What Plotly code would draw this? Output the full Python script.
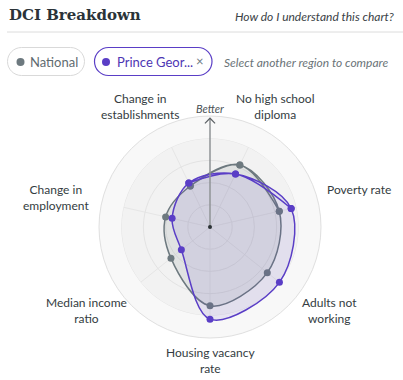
import plotly.graph_objects as go

# ---- data ----
categories = ["No high school<br>diploma", "Poverty rate", "Adults not<br>working",
              "Housing vacancy<br>rate", "Median income<br>ratio", "Change in<br>employment",
              "Change in<br>establishments"]
national = [62, 64, 66, 71, 45, 41, 41]
prince_georges = [53, 75, 80, 83, 33, 35, 44]
radial_ticks = [20, 40, 60, 80, 100]

# ---- style ----
W, H = 403, 380
CX, CY, R = 210, 227, 111
GRAY = "#6d797f"
PURPLE = "#5a3ec6"
TEXT = "#343c41"
FONT = "Lato"
ARROW_LEN = 98

n = len(categories)
first_theta = 25.71  # clockwise from top
thetas = [first_theta + i * 360 / n for i in range(n)]


def closed(vals):
    # wrap so the spline closes smoothly: last, all..., first, second
    return [vals[-1]] + list(vals) + list(vals[:2])


fig = go.Figure()

# outer lighter band
fig.add_trace(go.Barpolar(r=[20, 20], base=[80, 80], theta=[90, 270], width=[180, 180],
                          marker=dict(color="#f8f8f8", line=dict(width=0)),
                          hoverinfo="skip", showlegend=False))

for vals, col, fillc in [(national, GRAY, "rgba(109,121,127,0.13)"),
                         (prince_georges, PURPLE, "rgba(90,62,198,0.10)")]:
    fig.add_trace(go.Scatterpolar(
        r=closed(vals), theta=closed(thetas), mode="lines+markers",
        line=dict(color=col, width=1.5, shape="spline", smoothing=1.0),
        marker=dict(color=col, size=7),
        fill="toself", fillcolor=fillc, hoverinfo="skip", showlegend=False))

# "Better" arrow (shaft + chevron head)
fig.add_trace(go.Scatterpolar(r=[0, ARROW_LEN], theta=[0, 0], mode="lines",
                              line=dict(color="#8f9396", width=1.5),
                              hoverinfo="skip", showlegend=False))
fig.add_trace(go.Scatterpolar(r=[ARROW_LEN - 4.5, ARROW_LEN, ARROW_LEN - 4.5],
                              theta=[-2.8, 0, 2.8], mode="lines",
                              line=dict(color="#5d6266", width=1.2),
                              hoverinfo="skip", showlegend=False))
fig.add_trace(go.Scatterpolar(r=[0], theta=[0], mode="markers",
                              marker=dict(size=4, color="#2b3236"),
                              hoverinfo="skip", showlegend=False))

# dummy cartesian trace for pixel-coordinate overlay
fig.add_trace(go.Scatter(x=[], y=[], xaxis="x", yaxis="y", showlegend=False))

fig.update_layout(
    width=W, height=H, margin=dict(l=0, r=0, t=0, b=0),
    paper_bgcolor="white", plot_bgcolor="rgba(0,0,0,0)",
    xaxis=dict(range=[0, W], visible=False, fixedrange=True, domain=[0, 1]),
    yaxis=dict(range=[H, 0], visible=False, fixedrange=True, domain=[0, 1]),
    polar=dict(
        domain=dict(x=[(CX - R) / W, (CX + R) / W], y=[(H - CY - R) / H, (H - CY + R) / H]),
        bgcolor="#f2f2f2",
        radialaxis=dict(range=[0, 100], tickvals=radial_ticks, showticklabels=False,
                        ticks="", showline=False, gridcolor="#e3e3e3", gridwidth=1),
        angularaxis=dict(rotation=90, direction="clockwise", tickvals=thetas,
                         showticklabels=False, ticks="", showline=True,
                         linecolor="#e0e0e0", gridcolor="#e6e6e6"),
    ),
    showlegend=False,
)

label_pos = [(275, 106), (359, 189), (329, 310), (210, 360), (86, 310), (56, 197), (140, 106)]
ann = []
for txt, (x, y) in zip(categories, label_pos):
    ann.append(dict(x=x, y=y, xref="x", yref="y", text=txt, showarrow=False, align="center",
                    xanchor="center", yanchor="middle",
                    font=dict(family=FONT, size=12, color=TEXT)))

ann += [
    dict(x=7, y=15, xref="x", yref="y", text="<b>DCI Breakdown</b>", showarrow=False,
         xanchor="left", yanchor="middle", font=dict(family="DejaVu Serif", size=15, color="#2b3338")),
    dict(x=396, y=16, xref="x", yref="y", text="<i>How do I understand this chart?</i>",
         showarrow=False, xanchor="right", yanchor="middle",
         font=dict(family=FONT, size=12, color="#3a4246")),
    dict(x=28, y=62, xref="x", yref="y", text="National", showarrow=False,
         xanchor="left", yanchor="middle", font=dict(family=FONT, size=13, color="#5f6b71")),
    dict(x=115, y=62, xref="x", yref="y", text="Prince Geor...", showarrow=False,
         xanchor="left", yanchor="middle", font=dict(family=FONT, size=13, color="#4d36b4")),
    dict(x=200, y=61, xref="x", yref="y", text="×", showarrow=False,
         xanchor="center", yanchor="middle", font=dict(family=FONT, size=13, color="#6d797f")),
    dict(x=222, y=62, xref="x", yref="y", text="<i>Select another region to compare</i>",
         showarrow=False, xanchor="left", yanchor="middle",
         font=dict(family=FONT, size=12, color="#6a7377")),
    dict(x=CX, y=108, xref="x", yref="y", text="<i>Better</i>", showarrow=False,
         xanchor="center", yanchor="middle", font=dict(family=FONT, size=11, color="#4a5256")),
]
fig.update_layout(annotations=ann)


def pill(x0, x1, y0, y1):
    r = (y1 - y0) / 2
    k = 0.5523 * r
    return (f"M {x0+r},{y0} L {x1-r},{y0} "
            f"C {x1-r+k},{y0} {x1},{y0+r-k} {x1},{y0+r} "
            f"C {x1},{y0+r+k} {x1-r+k},{y1} {x1-r},{y1} "
            f"L {x0+r},{y1} "
            f"C {x0+r-k},{y1} {x0},{y0+r+k} {x0},{y0+r} "
            f"C {x0},{y0+r-k} {x0+r-k},{y0} {x0+r},{y0} Z")


shapes = [
    dict(type="line", xref="x", yref="y", x0=7, x1=403, y0=32, y1=32,
         line=dict(color="#dcdcdc", width=1)),
    dict(type="path", xref="x", yref="y", path=pill(7.5, 84.5, 47.5, 75.5),
         line=dict(color="#d9d9d9", width=1), fillcolor="white"),
    dict(type="path", xref="x", yref="y", path=pill(94.5, 212, 47.5, 75.5),
         line=dict(color=PURPLE, width=1.2), fillcolor="white"),
    dict(type="circle", xref="x", yref="y", x0=16.5, x1=24.5, y0=58, y1=66,
         fillcolor=GRAY, line=dict(width=0)),
    dict(type="circle", xref="x", yref="y", x0=102, x1=110, y0=58, y1=66,
         fillcolor=PURPLE, line=dict(width=0)),
]
fig.update_layout(shapes=shapes)

fig.write_html("out.html", config={"displayModeBar": False},
               post_script="document.body.style.margin='0';document.body.style.padding='0';"
                           "document.body.style.overflow='hidden';")
